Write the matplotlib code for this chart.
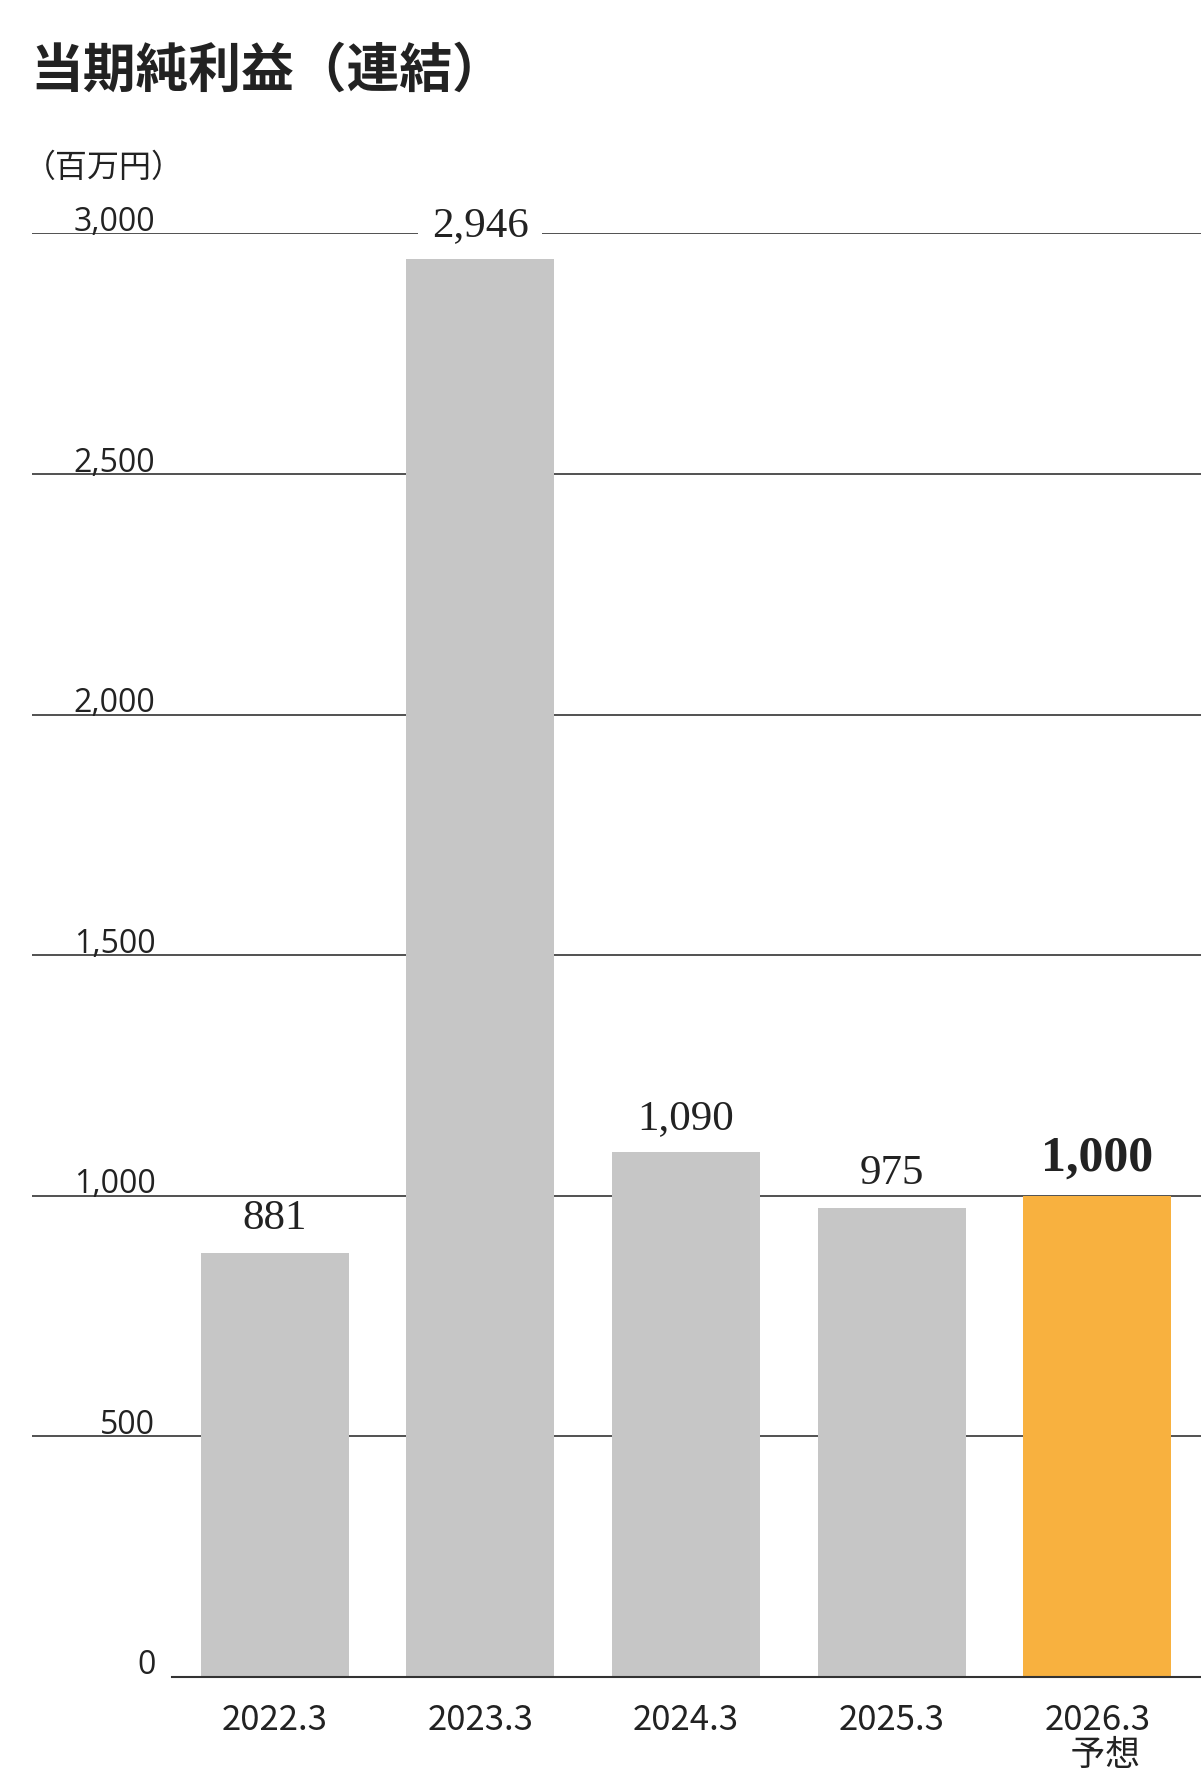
import matplotlib
matplotlib.use("Agg")
import matplotlib.pyplot as plt

cats = ["2022.3", "2023.3", "2024.3", "2025.3", "2026.3\n  予想"]
vals = [881, 2946, 1090, 975, 1000]
labels = ["881", "2,946", "1,090", "975", "1,000"]
colors = ["#c6c6c6"] * 4 + ["#f8b13f"]
yticks = [0, 500, 1000, 1500, 2000, 2500, 3000]
ytl = ["0", "500", "1,000", "1,500", "2,000", "2,500", "3,000"]

plt.rcParams['font.family'] = ['Noto Sans CJK JP', 'DejaVu Sans']
fig = plt.figure(figsize=(12.01, 17.86), dpi=100)
ax = fig.add_axes([0.0266, 0.0612, 0.9734, 0.8081])
x = list(range(len(vals)))
ax.set_xlim(-1.18, 4.504)
ax.set_ylim(0, 3000)
for y in yticks[1:]:
    ax.axhline(y, color="#333333", lw=1.2, zorder=1)
ax.plot([-0.5, 4.504], [0, 0], color="#333333", lw=1.5, zorder=3, clip_on=False)
ax.bar(x, vals, width=0.72, color=colors, zorder=2)
for y, t in zip(yticks, ytl):
    ax.text(-0.58, y - 12, t, ha="right", va="bottom", fontsize=23, color="#222222",
            family=["Open Sans", "DejaVu Sans"], zorder=4)
for i, (v, t) in enumerate(zip(vals, labels)):
    big = i == 4
    ax.text(i, v + 30, t, ha="center", va="bottom", fontsize=36 if big else 31,
            fontweight="bold" if big else "normal", family=["Liberation Serif", "DejaVu Serif"],
            color="#222222", zorder=5,
            bbox=dict(facecolor="white", edgecolor="none", pad=10) if i == 1 else None)
for i, c in enumerate(cats):
    ax.text(i, -55, c, ha="center", va="top", fontsize=25, color="#222222",
            linespacing=1.0, zorder=4)
for s in ax.spines.values():
    s.set_visible(False)
ax.set_xticks([]); ax.set_yticks([])
fig.text(0.025, 0.975, "当期純利益（連結）", fontsize=38, fontweight="bold", va="top", color="#222222")
fig.text(0.02, 0.915, "（百万円）", fontsize=23, va="top", color="#222222")
fig.savefig("out.png", dpi=100)
